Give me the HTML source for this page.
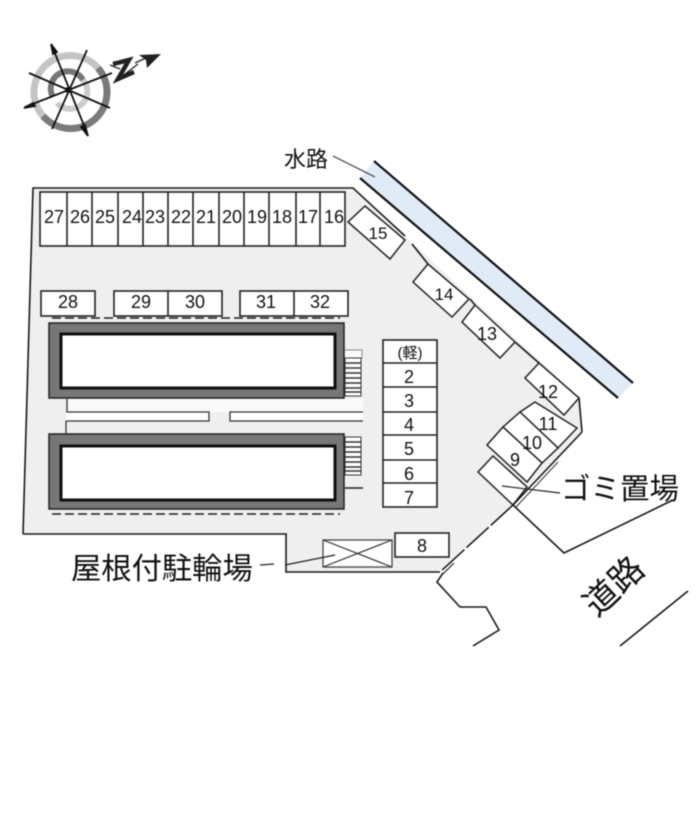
<!DOCTYPE html>
<html><head><meta charset="utf-8">
<style>
html,body{margin:0;padding:0;background:#fff;width:700px;height:823px;overflow:hidden}
svg{display:block;filter:blur(.4px)}
text{font-family:"Liberation Sans","Noto Sans CJK JP",sans-serif;fill:#111}
.n{font-size:18px;text-anchor:middle}
.l{fill:none;stroke:#1a1a1a;stroke-width:1.6}
.s{fill:#fff;stroke:#222;stroke-width:1.6}
</style></head><body>
<svg width="700" height="823" viewBox="0 0 700 823" xmlns="http://www.w3.org/2000/svg">
<rect width="700" height="823" fill="#fff"/>
<!-- compass -->
<g fill="none">
<path d="M43 116A36 36 0 0 1 98 68" stroke="#c4c4c4" stroke-width="7"/>
<path d="M98 68A36 36 0 0 1 43 116" stroke="#7a7a7a" stroke-width="7"/>
<path d="M53 97A17 17 0 0 1 83 80" stroke="#777" stroke-width="6"/>
<path d="M83 80A17 17 0 0 1 57 103" stroke="#ccc" stroke-width="6"/>
</g>
<g stroke="#111" stroke-width="1.8" fill="#111">
<path d="M52 46L87 133M87 50L52 129M29 73L110 108M25 107L112 73" fill="none"/>
<path d="M51 44L57 52L53 54Z M88 136L81 127L85 125Z M24 108L33 103L35 106Z"/>
</g>
<circle cx="68" cy="90" r="3" fill="#111"/>
<path d="M113 64L129 60L118 79L134 72" fill="none" stroke="#222" stroke-width="4.5"/>
<path d="M110 65L120 69M120 78L138 64" fill="none" stroke="#222" stroke-width="1.3"/>
<path d="M139 55L161 54L147 68L146 60Z" fill="#222"/>
<path d="M135 63L146 58" stroke="#222" stroke-width="1.3"/>
<!-- lot -->
<path d="M33 188L353 188L580 398L582 432L513 505L440 572L286 572L286 534L23 534Z" fill="#efefef"/>
<path d="M23 534L33 188L353 188L405 236M412 244L428 264M470 299L475 305M515 342L539 363M579 398L582 432" class="l"/>
<path d="M23 534L286 534L286 572L440 572" class="l" stroke-width="2"/>
<!-- water -->
<path d="M374 161L633 383L618 398L360 178Z" fill="#e1ebf8"/>
<path d="M374 161L633 383M360 178L618 398" fill="none" stroke="#111" stroke-width="2.2"/>
<path d="M333 156L375 177" fill="none" stroke="#333" stroke-width="1"/>
<!-- top row -->
<rect x="40" y="192" width="305" height="54" class="s"/>
<path d="M67 192V246M92 192V246M118 192V246M143 192V246M168 192V246M193 192V246M219 192V246M244 192V246M269 192V246M296 192V246M320 192V246" stroke="#222" stroke-width="1.6"/>
<text class="n" y="223"><tspan x="54">27</tspan><tspan x="80">26</tspan><tspan x="105">25</tspan><tspan x="132">24</tspan><tspan x="155">23</tspan><tspan x="181">22</tspan><tspan x="206">21</tspan><tspan x="232">20</tspan><tspan x="257">19</tspan><tspan x="282">18</tspan><tspan x="308">17</tspan><tspan x="334">16</tspan></text>
<!-- second row -->
<rect x="41" y="291" width="54" height="25" class="s"/>
<rect x="114" y="291" width="108" height="25" class="s"/><path d="M168 291V316" stroke="#222" stroke-width="1.6"/>
<rect x="240" y="291" width="108" height="25" class="s"/><path d="M294 291V316" stroke="#222" stroke-width="1.6"/>
<text class="n" y="308"><tspan x="68">28</tspan><tspan x="141">29</tspan><tspan x="195">30</tspan><tspan x="266">31</tspan><tspan x="320">32</tspan></text>
<path d="M52 318H340" stroke="#222" stroke-width="1.5" stroke-dasharray="9 4"/>
<!-- buildings -->
<rect x="49" y="323" width="295" height="75" fill="#777" stroke="#222" stroke-width="1.5"/>
<rect x="61" y="334" width="274" height="54" fill="#fff" stroke="#111" stroke-width="3"/>
<rect x="49" y="434" width="295" height="75" fill="#777" stroke="#222" stroke-width="1.5"/>
<rect x="61" y="446" width="274" height="54" fill="#fff" stroke="#111" stroke-width="3"/>
<path d="M52 514H340" stroke="#222" stroke-width="1.5" stroke-dasharray="9 4"/>
<!-- between buildings -->
<rect x="67" y="399" width="296" height="13" fill="#fafafa"/>
<path d="M66 421H209V412H67V398M66 421V434" fill="#fff" stroke="#333" stroke-width="1.3"/>
<path d="M363 412H230V421H363" fill="#fff" stroke="#333" stroke-width="1.3"/>
<!-- stairs -->
<path d="M345 350H362V358H345" fill="#fafafa" stroke="#888"/>
<rect x="345" y="358" width="16" height="38" fill="#fff" stroke="#333"/>
<path d="M345 363H361M345 368H361M345 373H361M345 378H361M345 383H361M345 388H361M345 392H361" stroke="#333" stroke-width="1.4"/>
<rect x="345" y="437" width="16" height="38" fill="#fff" stroke="#333"/>
<path d="M345 442H361M345 447H361M345 452H361M345 457H361M345 462H361M345 467H361M345 471H361" stroke="#333" stroke-width="1.4"/>
<path d="M345 488H363" stroke="#222" stroke-width="1.5"/>
<!-- column -->
<rect x="383" y="340" width="54" height="167" class="s"/>
<path d="M383 363H437M383 387H437M383 412H437M383 435H437M383 460H437M383 483H437" stroke="#222" stroke-width="1.6"/>
<text class="n" x="410" y="358" style="font-size:15px">(軽)</text>
<text class="n" y="383"><tspan x="409">2</tspan></text>
<text class="n" y="407"><tspan x="409">3</tspan></text>
<text class="n" y="431"><tspan x="409">4</tspan></text>
<text class="n" y="455"><tspan x="409">5</tspan></text>
<text class="n" y="480"><tspan x="409">6</tspan></text>
<text class="n" y="504"><tspan x="409">7</tspan></text>
<!-- 8 + bike -->
<rect x="395" y="533" width="54" height="24" class="s"/>
<text class="n" x="422" y="552">8</text>
<rect x="323" y="540" width="69" height="27" fill="#fff" stroke="#444" stroke-width="1.3"/>
<path d="M323 540L392 567M323 567L392 540" stroke="#333" stroke-width="1.2"/>
<!-- diagonal slots -->
<g fill="#fff" stroke="#222" stroke-width="1.5">
<path d="M365 206L405 240L390 259L348 222Z"/>
<path d="M428 264L469 299L452 317L413 282Z"/>
<path d="M475 305L515 342L500 358L462 322Z"/>
<path d="M493 456L527 487L513 505L478 472Z"/>
<path d="M535 402L577 428L558 448L520 412Z"/>
<path d="M520 412L558 448L542 463L503 427Z"/>
<path d="M503 427L542 463L527 482L487 445Z"/>
<path d="M539 363L579 398L564 415L525 378Z"/>
</g>
<text class="n" x="378" y="239" style="font-size:17px">15</text>
<text class="n" x="444" y="300" style="font-size:17px">14</text>
<text class="n" x="487" y="340" style="font-size:18px">13</text>
<text class="n" x="548" y="398" style="font-size:18px">12</text>
<text class="n" x="548" y="430" style="font-size:18px">11</text>
<text class="n" x="532" y="449" style="font-size:18px">10</text>
<text class="n" x="515" y="466" style="font-size:18px">9</text>
<!-- road -->
<path d="M582 432L513 505" fill="none" stroke="#111" stroke-width="1.5"/>
<path d="M558 462L516 507" fill="none" stroke="#333" stroke-width="1"/>
<path d="M513 505L440 572" fill="none" stroke="#111" stroke-width="1.5" stroke-dasharray="30 3"/>
<path d="M454 563L443 574" fill="none" stroke="#222" stroke-width="1.2"/>
<path d="M443 573L437 582L460 607L486 607L499 630L473 646" class="l"/>
<path d="M513 505L564 553L673 500" class="l"/>
<path d="M620 646L688 591" class="l"/>
<!-- leaders -->
<path d="M502 486L560 493" fill="none" stroke="#222" stroke-width="1.2"/>
<path d="M260 565L274 564M285 565L335 555" fill="none" stroke="#222" stroke-width="1.2"/>
<!-- labels -->
<text x="284" y="167" style="font-size:22px">水路</text>
<text x="561" y="499" style="font-size:29.5px">ゴミ置場</text>
<text x="71" y="579" style="font-size:30.3px">屋根付駐輪場</text>
<text transform="translate(597 618) rotate(-43)" style="font-size:34px">道路</text>
</svg>
</body></html>
